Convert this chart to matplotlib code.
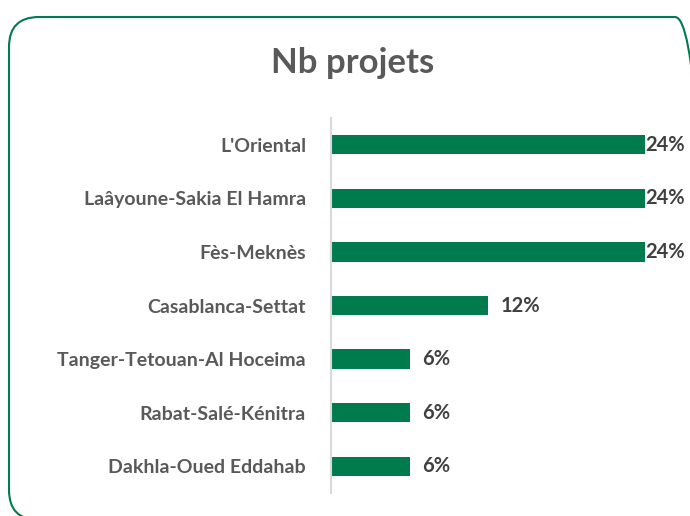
import matplotlib.pyplot as plt
from matplotlib.patches import FancyBboxPatch

# data
regions = ["L'Oriental", "Laâyoune-Sakia El Hamra", "Fès-Meknès", "Casablanca-Settat",
           "Tanger-Tetouan-Al Hoceima", "Rabat-Salé-Kénitra", "Dakhla-Oued Eddahab"]
shares = [0.24, 0.24, 0.24, 0.12, 0.06, 0.06, 0.06]
labels = ["24%", "24%", "24%", "12%", "6%", "6%", "6%"]

green = "#007B4E"
plt.rcParams['font.family'] = ['Lato', 'DejaVu Sans']

fig = plt.figure(figsize=(6.9, 5.16), dpi=100)

# rounded frame, cut off at the right and bottom edge like the screenshot
frame = FancyBboxPatch((0.09, -0.04), 6.96, 5.03, boxstyle="round,pad=0,rounding_size=0.3",
                       transform=fig.dpi_scale_trans, fill=False, edgecolor=green, linewidth=1.5)
fig.patches.append(frame)

ax = fig.add_axes([331 / 690, 1 - 493 / 516, 314 / 690, 375 / 516])
ax.barh(range(len(regions)), shares, height=0.36, color=green)
ax.set_xlim(0, 0.24)
ax.set_ylim(len(regions) - 0.5, -0.5)

for i, (v, lab) in enumerate(zip(shares, labels)):
    off = 0.0003 if v >= 0.24 else 0.01
    ax.text(v + off, i, lab, va='center', ha='left', fontsize=14.5, fontweight='bold',
            color='#404040', clip_on=False)

ax.set_yticks(range(len(regions)))
ax.set_yticklabels(regions, fontsize=14, fontweight='bold', color='#595959')
ax.tick_params(axis='y', length=0, pad=18)
ax.set_xticks([])
for s in ['top', 'right', 'bottom']:
    ax.spines[s].set_visible(False)
ax.spines['left'].set_color('#d9d9d9')
ax.spines['left'].set_linewidth(1.5)

fig.text(353 / 690, 1 - 63 / 516, "Nb projets", ha='center', va='center',
         fontsize=25, fontweight='bold', color='#595959')

fig.savefig("out.png", dpi=100)
